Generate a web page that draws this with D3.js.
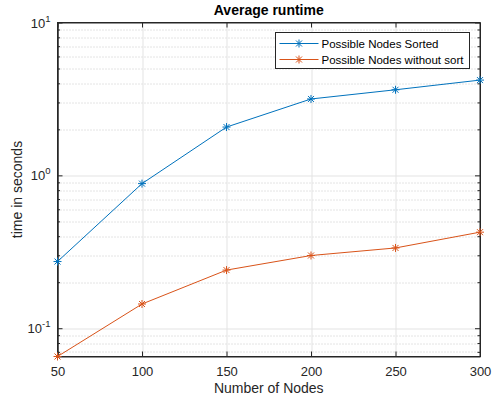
<!DOCTYPE html>
<html>
<head>
<meta charset="utf-8">
<script src="https://cdn.jsdelivr.net/npm/d3@7"></script>
<style>
  body { margin: 0; background: #fff; }
  svg { display: block; font-family: "Liberation Sans", Arial, sans-serif; }
</style>
</head>
<body>
<svg id="chart" width="492" height="402"></svg>
<script>
var nodes = [50, 100, 150, 200, 250, 300];
var sortedTimes = [0.273, 0.883, 2.07, 3.16, 3.63, 4.2];
var unsortedTimes = [0.0653, 0.144, 0.240, 0.299, 0.335, 0.425];
var seriesNames = ["Possible Nodes Sorted", "Possible Nodes without sort"];
var xTicks = [50, 100, 150, 200, 250, 300];
var yMajorExp = [-1, 0, 1];

var svg = d3.select("#chart"),
    margin = {top: 22.5, right: 12, bottom: 45.5, left: 57.5},
    width = 492 - margin.left - margin.right,
    height = 402 - margin.top - margin.bottom,
    g = svg.append("g").attr("transform", "translate(" + margin.left + "," + margin.top + ")");

var axisColor = "#262626";
var colors = ["#0072BD", "#D95319"];

var x = d3.scaleLinear().domain([50, 300]).range([0, width]);
var y = d3.scaleLog().domain([0.0653, 10]).range([height, 0]);

// minor y values (2..9 x 10^k) inside domain
var minorY = [];
[-2, -1, 0].forEach(function (k) {
    for (var m = 2; m <= 9; m++) {
        var v = m * Math.pow(10, k);
        if (v > y.domain()[0] && v < y.domain()[1]) minorY.push(v);
    }
});

// minor grid (dotted)
g.append("g").selectAll("line")
    .data(minorY)
    .enter().append("line")
    .attr("x1", 0).attr("x2", width)
    .attr("y1", function (d) { return Math.round(y(d)) + 0.5; })
    .attr("y2", function (d) { return Math.round(y(d)) + 0.5; })
    .attr("stroke", "#c8c8c8")
    .attr("stroke-width", 1)
    .attr("stroke-dasharray", "1,2");

// major grid
g.append("g").selectAll("line")
    .data(xTicks.slice(1, -1))
    .enter().append("line")
    .attr("x1", function (d) { return Math.round(x(d)) + 0.5; })
    .attr("x2", function (d) { return Math.round(x(d)) + 0.5; })
    .attr("y1", 0).attr("y2", height)
    .attr("stroke", "#e3e3e3");

g.append("g").selectAll("line")
    .data(yMajorExp.slice(0, 2))
    .enter().append("line")
    .attr("x1", 0).attr("x2", width)
    .attr("y1", function (d) { return Math.round(y(Math.pow(10, d))) + 0.5; })
    .attr("y2", function (d) { return Math.round(y(Math.pow(10, d))) + 0.5; })
    .attr("stroke", "#e3e3e3");

// axes
var xAxis = g.append("g")
    .attr("transform", "translate(0," + height + ")")
    .call(d3.axisBottom(x).tickValues(xTicks).tickSizeInner(-5).tickSizeOuter(0).tickPadding(10));

var xAxisTop = g.append("g")
    .call(d3.axisTop(x).tickValues(xTicks).tickSizeInner(-5).tickSizeOuter(0).tickFormat(""));

var yAxis = g.append("g")
    .call(d3.axisLeft(y).tickValues(yMajorExp.map(function (e) { return Math.pow(10, e); }))
        .tickSizeInner(-5).tickSizeOuter(0).tickPadding(7).tickFormat(""));

var yAxisRight = g.append("g")
    .attr("transform", "translate(" + width + ",0)")
    .call(d3.axisRight(y).tickValues(yMajorExp.map(function (e) { return Math.pow(10, e); }))
        .tickSizeInner(-5).tickSizeOuter(0).tickFormat(""));

// minor ticks
g.append("g")
    .call(d3.axisLeft(y).tickValues(minorY).tickSizeInner(-2.5).tickSizeOuter(0).tickFormat(""));
g.append("g")
    .attr("transform", "translate(" + width + ",0)")
    .call(d3.axisRight(y).tickValues(minorY).tickSizeInner(-2.5).tickSizeOuter(0).tickFormat(""));

g.selectAll(".domain").attr("stroke", axisColor);
g.selectAll(".tick line").attr("stroke", axisColor);
xAxis.selectAll(".tick text")
    .attr("fill", axisColor)
    .attr("font-size", 13)
    .attr("font-family", "Liberation Sans, Arial, sans-serif");

// box lines
g.append("rect")
    .attr("x", 0).attr("y", 0)
    .attr("width", width).attr("height", height)
    .attr("fill", "none")
    .attr("stroke", axisColor)
    .attr("stroke-width", 1);

// y tick labels 10^k
var yLab = g.append("g").selectAll("text")
    .data(yMajorExp)
    .enter().append("text")
    .attr("x", -7)
    .attr("y", function (d) { return y(Math.pow(10, d)) + 5; })
    .attr("text-anchor", "end")
    .attr("fill", axisColor)
    .attr("font-size", 13);
yLab.append("tspan").text("10");
yLab.append("tspan")
    .attr("dy", -6)
    .attr("font-size", 9.5)
    .text(function (d) { return d; });

// lines
var line = d3.line()
    .x(function (d, i) { return x(nodes[i]); })
    .y(function (d) { return y(d); });

[sortedTimes, unsortedTimes].forEach(function (vals, s) {
    g.append("path")
        .datum(vals)
        .attr("fill", "none")
        .attr("stroke", colors[s])
        .attr("stroke-width", 1)
        .attr("d", line);

    g.append("g").selectAll("path")
        .data(vals)
        .enter().append("path")
        .attr("transform", function (d, i) { return "translate(" + x(nodes[i]) + "," + y(d) + ")"; })
        .attr("d", "M-4,0H4M0,-4V4M-3,-3L3,3M-3,3L3,-3")
        .attr("stroke", colors[s])
        .attr("stroke-width", 1)
        .attr("fill", "none");
});

// title and axis labels
svg.append("text")
    .attr("x", margin.left + width / 2)
    .attr("y", 15)
    .attr("text-anchor", "middle")
    .attr("font-size", 14)
    .attr("font-weight", "bold")
    .attr("fill", "#000")
    .text("Average runtime");

svg.append("text")
    .attr("x", margin.left + width / 2)
    .attr("y", 393)
    .attr("text-anchor", "middle")
    .attr("font-size", 14)
    .attr("fill", axisColor)
    .text("Number of Nodes");

svg.append("text")
    .attr("transform", "translate(22," + (margin.top + height / 2) + ") rotate(-90)")
    .attr("text-anchor", "middle")
    .attr("font-size", 14)
    .attr("fill", axisColor)
    .text("time in seconds");

// legend
var legend = svg.append("g").attr("transform", "translate(275.5,32.5)");
legend.append("rect")
    .attr("width", 194).attr("height", 36)
    .attr("fill", "#fff")
    .attr("stroke", axisColor)
    .attr("stroke-width", 1);

var items = legend.selectAll("g.item")
    .data(seriesNames)
    .enter().append("g")
    .attr("class", "item")
    .attr("transform", function (d, i) { return "translate(0," + (11 + i * 16) + ")"; });

items.append("line")
    .attr("x1", 4).attr("x2", 43)
    .attr("stroke", function (d, i) { return colors[i]; });
items.append("path")
    .attr("transform", "translate(23.5,0)")
    .attr("d", "M-4,0H4M0,-4V4M-3,-3L3,3M-3,3L3,-3")
    .attr("stroke", function (d, i) { return colors[i]; })
    .attr("fill", "none");
items.append("text")
    .attr("x", 46)
    .attr("y", 4)
    .attr("font-size", 11.5)
    .attr("fill", "#000")
    .text(function (d) { return d; });
</script>
</body>
</html>
